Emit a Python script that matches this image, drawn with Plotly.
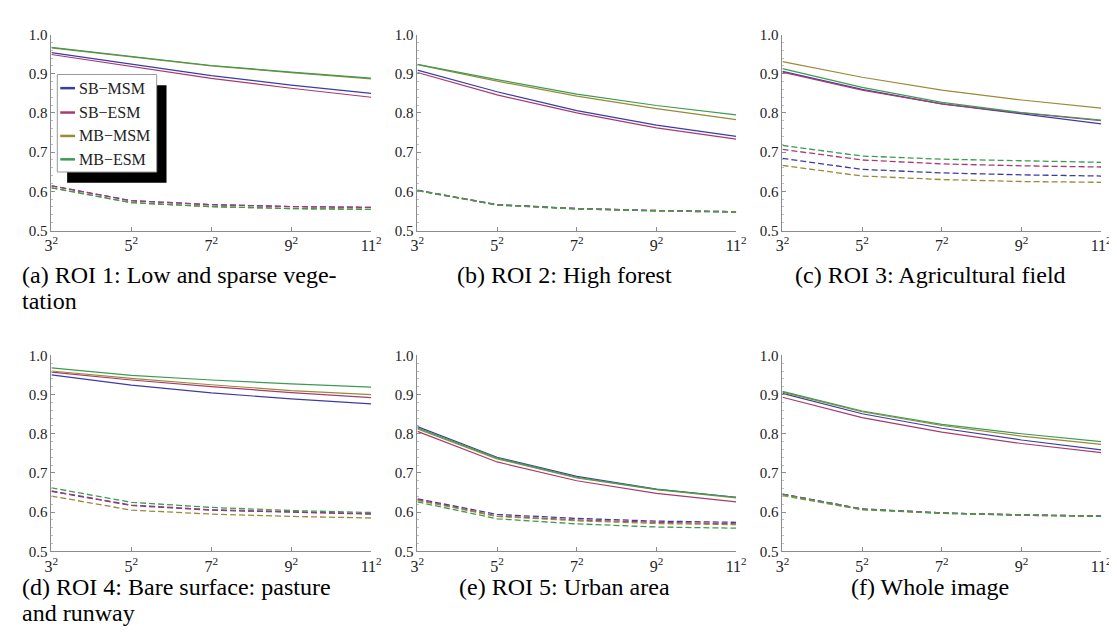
import plotly.graph_objects as go

W, H = 1117, 642

# ---------------- data ----------------
windows = [3, 5, 7, 9, 11]
xtick_text = ["3<sup>2</sup>", "5<sup>2</sup>", "7<sup>2</sup>", "9<sup>2</sup>", "11<sup>2</sup>"]
methods = ["SB\u2212MSM", "SB\u2212ESM", "MB\u2212MSM", "MB\u2212ESM"]
colors = ["#3c3ca6", "#a83a72", "#9c8838", "#3c9c50"]

# order of each list: SB-MSM, SB-ESM, MB-MSM, MB-ESM
roi1_solid = [
    [0.954, 0.924, 0.895, 0.871, 0.850],
    [0.949, 0.919, 0.888, 0.863, 0.840],
    [0.966, 0.943, 0.920, 0.903, 0.887],
    [0.967, 0.944, 0.921, 0.904, 0.889],
]
roi1_dash = [
    [0.614, 0.576, 0.566, 0.561, 0.559],
    [0.614, 0.576, 0.566, 0.561, 0.559],
    [0.609, 0.571, 0.561, 0.556, 0.554],
    [0.609, 0.571, 0.561, 0.556, 0.554],
]
roi2_solid = [
    [0.909, 0.854, 0.806, 0.769, 0.740],
    [0.903, 0.846, 0.800, 0.762, 0.733],
    [0.923, 0.881, 0.843, 0.811, 0.783],
    [0.924, 0.885, 0.848, 0.819, 0.795],
]
roi2_dash = [
    [0.603, 0.566, 0.556, 0.551, 0.548],
    [0.602, 0.566, 0.556, 0.551, 0.548],
    [0.602, 0.565, 0.555, 0.550, 0.547],
    [0.602, 0.565, 0.555, 0.550, 0.547],
]
roi3_solid = [
    [0.906, 0.860, 0.823, 0.797, 0.772],
    [0.904, 0.858, 0.823, 0.800, 0.780],
    [0.931, 0.891, 0.858, 0.833, 0.812],
    [0.913, 0.865, 0.827, 0.801, 0.782],
]
roi3_dash = [
    [0.684, 0.656, 0.647, 0.642, 0.639],
    [0.707, 0.680, 0.670, 0.665, 0.662],
    [0.666, 0.639, 0.630, 0.625, 0.623],
    [0.717, 0.690, 0.682, 0.678, 0.674],
]
roi4_solid = [
    [0.950, 0.924, 0.904, 0.889, 0.876],
    [0.957, 0.937, 0.920, 0.905, 0.892],
    [0.960, 0.941, 0.925, 0.910, 0.900],
    [0.968, 0.949, 0.937, 0.927, 0.919],
]
roi4_dash = [
    [0.653, 0.617, 0.605, 0.600, 0.595],
    [0.654, 0.618, 0.606, 0.601, 0.596],
    [0.641, 0.605, 0.595, 0.589, 0.585],
    [0.662, 0.625, 0.612, 0.604, 0.599],
]
roi5_solid = [
    [0.818, 0.740, 0.691, 0.659, 0.638],
    [0.806, 0.728, 0.680, 0.648, 0.626],
    [0.812, 0.736, 0.687, 0.657, 0.636],
    [0.815, 0.738, 0.689, 0.658, 0.638],
]
roi5_dash = [
    [0.634, 0.594, 0.584, 0.577, 0.574],
    [0.632, 0.590, 0.580, 0.574, 0.570],
    [0.630, 0.589, 0.578, 0.571, 0.568],
    [0.626, 0.583, 0.570, 0.562, 0.559],
]
whole_solid = [
    [0.903, 0.851, 0.814, 0.784, 0.759],
    [0.893, 0.841, 0.804, 0.775, 0.752],
    [0.906, 0.856, 0.821, 0.794, 0.773],
    [0.908, 0.858, 0.824, 0.800, 0.780],
]
whole_dash = [
    [0.646, 0.608, 0.598, 0.593, 0.590],
    [0.646, 0.608, 0.598, 0.593, 0.590],
    [0.642, 0.606, 0.597, 0.592, 0.589],
    [0.645, 0.607, 0.597, 0.592, 0.589],
]

captions = [
    ["(a) ROI 1: Low and sparse vege-", "tation"],
    ["(b) ROI 2: High forest"],
    ["(c) ROI 3: Agricultural field"],
    ["(d) ROI 4: Bare surface: pasture", "and runway"],
    ["(e) ROI 5: Urban area"],
    ["(f) Whole image"],
]

panels = [
    (roi1_solid, roi1_dash),
    (roi2_solid, roi2_dash),
    (roi3_solid, roi3_dash),
    (roi4_solid, roi4_dash),
    (roi5_solid, roi5_dash),
    (whole_solid, whole_dash),
]

# ---------------- layout geometry (pixels) ----------------
col_x = [(37, 362), (409, 733), (780, 1104)]
row_y = [(19, 220), (348, 549)]
caption_anchor = [(5, "left"), (558, "center"), (930, "center")]
caption_y = [[266, 292], [586, 612]]


def px(x):
    return x / W


def py(y):
    return 1 - y / H


serif = "Liberation Serif, serif"
fig = go.Figure()
layout = dict(
    width=W, height=H,
    margin=dict(l=0, r=0, t=0, b=0),
    paper_bgcolor="white", plot_bgcolor="white",
    showlegend=False,
    font=dict(family=serif),
)

annotations = []
shapes = []

for i, (solid, dash) in enumerate(panels):
    r, c = divmod(i, 3)
    n = i + 1
    xa = "x" if n == 1 else f"x{n}"
    ya = "y" if n == 1 else f"y{n}"
    for k in range(4):
        fig.add_trace(go.Scatter(
            x=windows, y=dash[k], mode="lines", name=methods[k],
            line=dict(color=colors[k], width=1.3, dash="6px,3px"),
            xaxis=xa, yaxis=ya, hoverinfo="skip"))
    for k in range(4):
        fig.add_trace(go.Scatter(
            x=windows, y=solid[k], mode="lines", name=methods[k],
            line=dict(color=colors[k], width=1.2),
            xaxis=xa, yaxis=ya, hoverinfo="skip"))

    x0, x1 = col_x[c]
    y0, y1 = row_y[r]
    xkey = "xaxis" if n == 1 else f"xaxis{n}"
    ykey = "yaxis" if n == 1 else f"yaxis{n}"
    layout[xkey] = dict(
        domain=[px(x0), px(x1)], anchor=ya, range=[3, 11],
        tickvals=windows, ticktext=xtick_text,
        showline=True, linecolor="#8c8c8c", linewidth=1,
        ticks="inside", ticklen=4, tickcolor="#8c8c8c",
        showgrid=False, zeroline=False,
        tickfont=dict(family=serif, size=16, color="#222"),
        ticklabelstandoff=0,
    )
    layout[ykey] = dict(
        domain=[py(y1), py(y0)], anchor=xa, range=[0.5, 1.0],
        tickvals=[0.5, 0.6, 0.7, 0.8, 0.9, 1.0], tickformat=".1f",
        showline=True, linecolor="#8c8c8c", linewidth=1,
        ticks="inside", ticklen=4, tickcolor="#8c8c8c",
        minor=dict(ticks="inside", dtick=0.02, ticklen=2, tickcolor="#c0c0c0"),
        showgrid=False, zeroline=False,
        tickfont=dict(family=serif, size=15, color="#222"),
    )

    cx, anchor = caption_anchor[c]
    for j, line in enumerate(captions[i]):
        annotations.append(dict(
            text=line, xref="paper", yref="paper",
            x=px(cx), y=py(caption_y[r][j]),
            xanchor=anchor, yanchor="middle", showarrow=False,
            font=dict(family=serif, size=24, color="black")))

# ---------------- legend in panel (a) ----------------
shapes.append(dict(type="rect", xref="paper", yref="paper",
                   x0=px(53), x1=px(154), y0=py(171), y1=py(71),
                   fillcolor="black", line=dict(width=0), layer="above"))
shapes.append(dict(type="rect", xref="paper", yref="paper",
                   x0=px(43), x1=px(144), y0=py(160), y1=py(60),
                   fillcolor="white", line=dict(color="#9a9a9a", width=1), layer="above"))
leg_rows = [74, 99, 123, 147]
for k in range(4):
    shapes.append(dict(type="line", xref="paper", yref="paper",
                       x0=px(46), x1=px(61), y0=py(leg_rows[k]), y1=py(leg_rows[k]),
                       line=dict(color=colors[k], width=2.5), layer="above"))
    annotations.append(dict(
        text=methods[k], xref="paper", yref="paper",
        x=px(63), y=py(leg_rows[k]), xanchor="left", yanchor="middle",
        showarrow=False, font=dict(family=serif, size=16, color="#222")))

layout["annotations"] = annotations
layout["shapes"] = shapes
fig.update_layout(**layout)
fig.write_html("out.html")
